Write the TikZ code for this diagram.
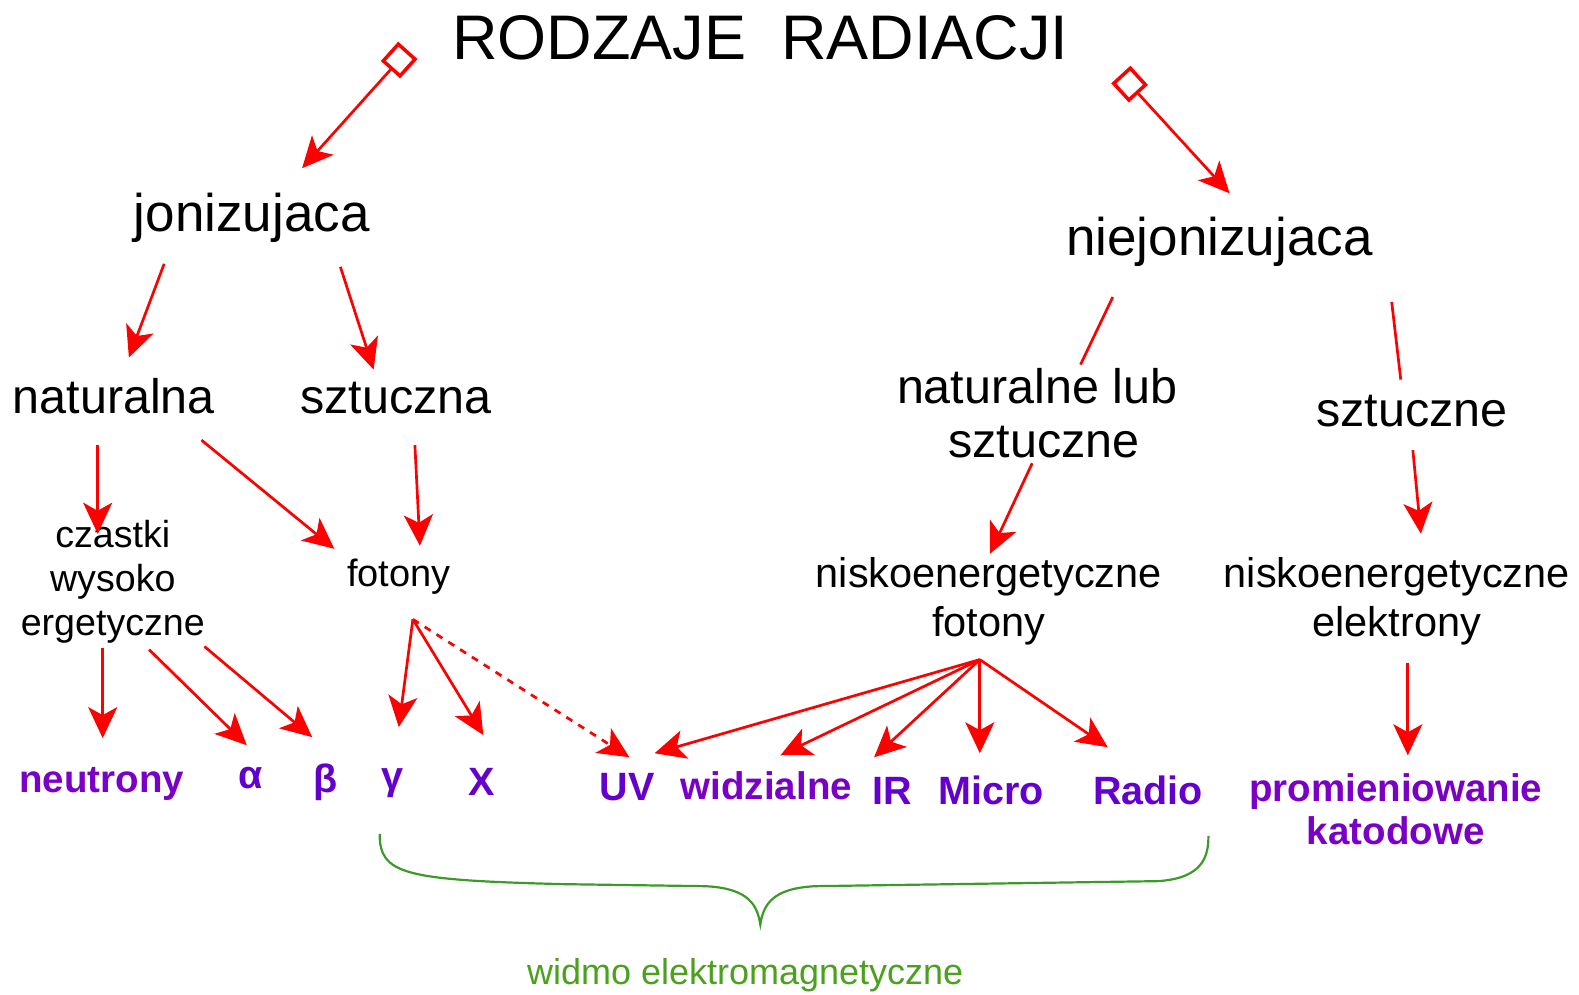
\documentclass[tikz,border=0pt]{standalone}
\usepackage{fontspec}
\setmainfont{Liberation Sans}
\usetikzlibrary{arrows.meta}
\definecolor{arr}{RGB}{255,0,0}
\definecolor{pur}{RGB}{122,0,200}
\definecolor{purb}{RGB}{100,0,205}
\definecolor{grn}{RGB}{60,155,40}
\definecolor{grntxt}{RGB}{75,160,30}
\newcommand{\myfs}[2]{\fontsize{#1}{#2}\selectfont}
\begin{document}
\begin{tikzpicture}[x=1.007pt,y=-1.007pt,
  lbl/.style={inner sep=0pt, anchor=center, align=center},
  ra/.style={draw=arr, line width=2.7pt, -{Stealth[length=31pt,width=29pt,inset=8pt]}},
  rl/.style={draw=arr, line width=2.7pt},
  fl/.style={draw=arr, line width=2.7pt, {Square[open,length=26pt,width=26pt,line width=3.5pt]}-{Stealth[length=31pt,width=29pt,inset=8pt]}},
  plbl/.style={lbl, text=pur, font=\bfseries\myfs{38.5}{43}},
  pblbl/.style={lbl, text=purb, font=\bfseries\myfs{39.5}{43}},
  big/.style={lbl, font=\myfs{53}{60}},
  mid/.style={lbl, font=\myfs{48.5}{54}},
  sml/.style={lbl, font=\myfs{37.6}{44}},
  nsk/.style={lbl, font=\myfs{41.5}{49}}
]
\useasboundingbox (0,0) rectangle (1568,988);

% texts
\node[lbl, font=\myfs{63}{70}] (title) at (755,38) {RODZAJE\ \ RADIACJI};
\node[big] (jon) at (250,216) {jonizujaca};
\node[big] (niejon) at (1211,240) {niejonizujaca};
\node[mid] (nat) at (113,393) {naturalna};
\node[mid] (szt) at (393,395) {sztuczna};
\node[mid] (nls) at (1030,410) {naturalne lub\\\ sztuczne};
\node[mid] (szte) at (1402,408) {sztuczne};
\node[sml] (czas) at (112,578) {czastki\\wysoko\\ergetyczne};
\node[lbl, font=\myfs{38}{44}] (fot) at (396,573) {fotony};
\node[nsk] (nfot) at (982,597) {niskoenergetyczne\\fotony};
\node[nsk] (nel) at (1387,597) {niskoenergetyczne\\elektrony};

\node[plbl] (neu) at (101,778) {neutrony};
\node[pblbl] (alf) at (249,773) {α};
\node[pblbl] (bet) at (323,777) {β};
\node[pblbl] (gam) at (390,778) {γ};
\node[pblbl] (xr) at (478,776) {X};
\node[pblbl] (uv) at (623,782) {UV};
\node[plbl] (wid) at (761,780) {widzialne};
\node[pblbl] (ir) at (886,785) {IR};
\node[pblbl] (mic) at (984,785) {Micro};
\node[pblbl] (rad) at (1140,785) {Radio};
\node[plbl] (prom) at (1386,804) {promieniowanie\\katodowe};
\node[lbl, text=grntxt, font=\myfs{36}{40}] (widmo) at (740,968) {widmo elektromagnetyczne};

% connector end points
\coordinate (t1) at (405,50);   \coordinate (t1e) at (300,167);
\coordinate (t2) at (1113,74);  \coordinate (t2e) at (1221,192);
\coordinate (jn1) at (163,262); \coordinate (jn2) at (128,355);
\coordinate (js1) at (338,265); \coordinate (js2) at (371,367);
\coordinate (nn1) at (1105,295); \coordinate (nn2) at (1073,362);
\coordinate (ns1) at (1382,300); \coordinate (ns2) at (1391,377);
\coordinate (nc1) at (97,442);  \coordinate (nc2) at (97,530);
\coordinate (nf1) at (200,437); \coordinate (nf2) at (332,545);
\coordinate (sf1) at (412,442); \coordinate (sf2) at (417,542);
\coordinate (ln1) at (1025,460); \coordinate (ln2) at (983,550);
\coordinate (se1) at (1403,447); \coordinate (se2) at (1411,530);
\coordinate (c0) at (102,643);  \coordinate (c0e) at (102,733);
\coordinate (c1) at (148,645);  \coordinate (c1e) at (245,740);
\coordinate (c2) at (203,642);  \coordinate (c2e) at (310,732);
\coordinate (fo) at (410,615);
\coordinate (fg) at (396,722); \coordinate (fx) at (480,730); \coordinate (fu) at (625,752);
\coordinate (no) at (973,655);
\coordinate (nu) at (650,748); \coordinate (nw) at (775,750); \coordinate (ni) at (868,752);
\coordinate (nm) at (973,748); \coordinate (nr) at (1100,742);
\coordinate (e1) at (1398,658); \coordinate (e2) at (1398,750);

% connectors
\draw[fl] (t1) -- (t1e);
\draw[fl] (t2) -- (t2e);
\draw[ra] (jn1) -- (jn2);
\draw[ra] (js1) -- (js2);
\draw[rl] (nn1) -- (nn2);
\draw[rl] (ns1) -- (ns2);
\draw[ra] (nc1) -- (nc2);
\draw[ra] (nf1) -- (nf2);
\draw[ra] (sf1) -- (sf2);
\draw[ra] (ln1) -- (ln2);
\draw[ra] (se1) -- (se2);
\draw[ra] (c0) -- (c0e);
\draw[ra] (c1) -- (c1e);
\draw[ra] (c2) -- (c2e);
\draw[ra] (fo) -- (fg);
\draw[ra] (fo) -- (fx);
\draw[ra, dash pattern=on 7pt off 7pt] (fo) -- (fu);
\draw[ra] (no) -- (nu);
\draw[ra] (no) -- (nw);
\draw[ra] (no) -- (ni);
\draw[ra] (no) -- (nm);
\draw[ra] (no) -- (nr);
\draw[ra] (e1) -- (e2);

% brace
\draw[grn, line width=2.2pt] (377,828) .. controls (377,868) and (400,874) .. (560,878)
  -- (700,880) .. controls (745,882) and (752,900) .. (755,918)
  .. controls (758,900) and (765,882) .. (810,880)
  -- (1150,875) .. controls (1195,872) and (1200,850) .. (1200,830);
\end{tikzpicture}
\end{document}
